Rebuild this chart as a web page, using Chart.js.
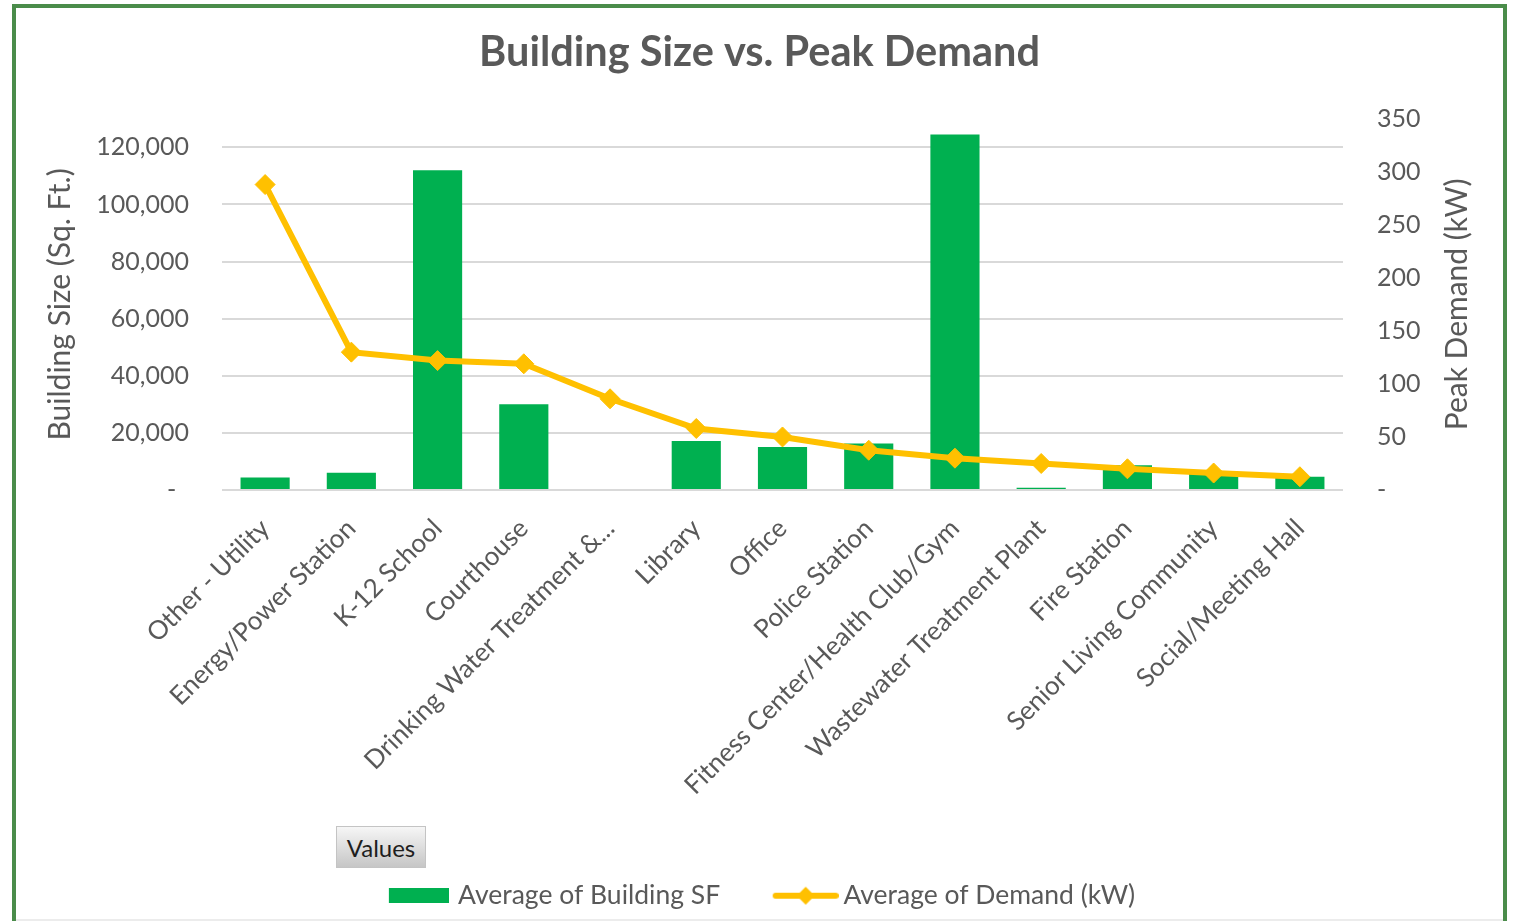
<!DOCTYPE html>
<html><head><meta charset="utf-8">
<script src="https://cdn.jsdelivr.net/npm/chart.js@4.4.1/dist/chart.umd.min.js"></script>
<style>
html,body{margin:0;padding:0;background:#fff;overflow:hidden;width:1514px;height:921px;}
#frame{position:absolute;left:12px;top:4px;width:1487px;height:1000px;border:4px solid #4a8c4a;}
#c{position:absolute;left:16px;top:8px;}
#values{position:absolute;left:336px;top:826px;width:90px;height:42px;background:linear-gradient(#f6f6f6,#c6c6c6);border:1px solid #c4c4c4;box-sizing:border-box;font:24px Lato,sans-serif;color:#1e1e1e;display:flex;align-items:center;justify-content:center;}
#bline{position:absolute;left:16px;top:919px;width:1487px;height:2px;background:#ececec;}
</style></head>
<body>
<div id="frame"></div>
<canvas id="c" width="1487" height="911"></canvas>
<div id="values">Values</div>
<div id="bline"></div>
<script>
const categories = ['Other - Utility','Energy/Power Station','K-12 School','Courthouse','Drinking Water Treatment &...','Library','Office','Police Station','Fitness Center/Health Club/Gym','Wastewater Treatment Plant','Fire Station','Senior Living Community','Social/Meeting Hall'];
const buildingSF = [4400, 6000, 112000, 30000, 0, 17200, 15100, 16300, 124500, 800, 8700, 5800, 4600];
const demandKW = [288, 130, 122, 119, 86, 58, 50, 37.5, 30, 25, 20, 16, 12.5];
const leftTicks = [0, 20000, 40000, 60000, 80000, 100000, 120000];
const rightTicks = [0, 50, 100, 150, 200, 250, 300, 350];
const seriesNames = ['Average of Building SF', 'Average of Demand (kW)'];
const chartTitle = 'Building Size vs. Peak Demand';
const leftAxisTitle = 'Building Size (Sq. Ft.)';
const rightAxisTitle = 'Peak Demand (kW)';

const GREEN = '#00B050', GOLD = '#FFC000', TXT = '#595959', FONT = 'Lato';

function makeBoxImg(){
  const c = document.createElement('canvas'); c.width = 69; c.height = 15;
  const g = c.getContext('2d'); g.fillStyle = GREEN; g.fillRect(9,0,60,15); return c;
}
function makeLineImg(){
  const c = document.createElement('canvas'); c.width = 78; c.height = 22;
  const g = c.getContext('2d');
  g.strokeStyle = GOLD; g.lineWidth = 6; g.lineCap = 'round';
  g.beginPath(); g.moveTo(15,11); g.lineTo(75,11); g.stroke();
  g.fillStyle = GOLD; g.beginPath(); g.moveTo(45,2); g.lineTo(54,11); g.lineTo(45,20); g.lineTo(36,11); g.closePath(); g.fill();
  return c;
}
const boxImg = makeBoxImg(), lineImg = makeLineImg();

const rightTitlePlugin = {
  id: 'rightTitle',
  afterDraw(chart){
    const ctx = chart.ctx, a = chart.chartArea;
    ctx.save();
    ctx.translate(a.right + 114, (a.top + a.bottom) / 2);
    ctx.rotate(-Math.PI / 2);
    ctx.font = '30px ' + FONT;
    ctx.fillStyle = TXT; ctx.textAlign = 'center'; ctx.textBaseline = 'middle';
    ctx.fillText(rightAxisTitle, 0, 0);
    ctx.restore();
  }
};

new Chart(document.getElementById('c'), {
  data: {
    labels: categories,
    datasets: [
      { type: 'bar', label: seriesNames[0], data: buildingSF, backgroundColor: GREEN, yAxisID: 'y',
        categoryPercentage: 1, barPercentage: 0.57, order: 2 },
      { type: 'line', label: seriesNames[1], data: demandKW, borderColor: GOLD, backgroundColor: GOLD,
        borderWidth: 6, pointStyle: 'rectRot', pointRadius: 10, pointBackgroundColor: GOLD, pointBorderColor: GOLD,
        pointBorderWidth: 1, tension: 0, yAxisID: 'y1', order: 1 }
    ]
  },
  options: {
    responsive: false, animation: false, devicePixelRatio: 1,
    layout: { padding: 0 },
    plugins: {
      tooltip: { enabled: false },
      title: { display: true, text: chartTitle, color: TXT, font: { family: FONT, size: 41.5, weight: 'bold' }, padding: { top: 20, bottom: 41 } },
      legend: {
        position: 'bottom',
        labels: {
          usePointStyle: true, pointStyleWidth: 61, padding: 49, color: TXT,
          font: { family: FONT, size: 26.5 },
          generateLabels: () => [
            { text: seriesNames[0], pointStyle: boxImg, fillStyle: GREEN, strokeStyle: GREEN, lineWidth: 0, hidden: false, datasetIndex: 0, fontColor: TXT },
            { text: seriesNames[1], pointStyle: lineImg, fillStyle: GOLD, strokeStyle: GOLD, lineWidth: 0, hidden: false, datasetIndex: 1, fontColor: TXT }
          ]
        }
      }
    },
    scales: {
      x: {
        grid: { display: false, drawTicks: false }, border: { display: false },
        ticks: { color: TXT, font: { family: FONT, size: 26 }, minRotation: 45, maxRotation: 45, autoSkip: false, padding: 23 },
        afterFit: s => { s.height = 343.5; }
      },
      y: {
        position: 'left', min: 0, max: 130000,
        grid: { color: '#d9d9d9', lineWidth: 2, drawTicks: false }, border: { display: false },
        ticks: { color: TXT, font: { family: FONT, size: 25 }, padding: 33,
          callback: v => v === 0 ? '-  ' : v.toLocaleString('en-US') },
        afterBuildTicks: s => { s.ticks = leftTicks.map(v => ({ value: v })); },
        title: { display: true, text: leftAxisTitle, color: TXT, font: { family: FONT, size: 30 }, padding: { top: 26, bottom: 0 } },
        afterFit: s => { s.width = 206; }
      },
      y1: {
        position: 'right', min: 0, max: 350,
        grid: { display: false, drawTicks: false }, border: { display: false },
        ticks: { color: TXT, font: { family: FONT, size: 25 }, padding: 34,
          callback: v => v === 0 ? '-' : v },
        afterBuildTicks: s => { s.ticks = rightTicks.map(v => ({ value: v })); },
        afterFit: s => { s.width = 160; }
      }
    }
  },
  plugins: [rightTitlePlugin]
});
</script>
</body></html>
